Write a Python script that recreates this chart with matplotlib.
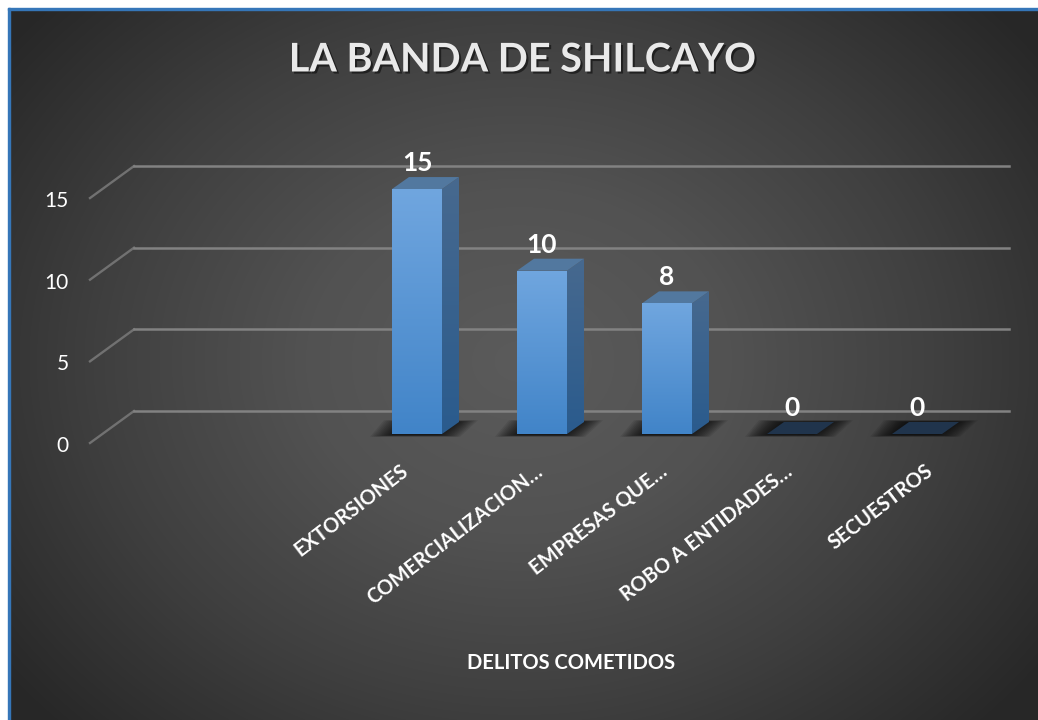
"""La Banda de Shilcayo: fake 3D column chart on a dark radial background."""
from __future__ import annotations

import matplotlib

matplotlib.use("Agg")

import matplotlib.patheffects as pe
import matplotlib.pyplot as plt
import numpy as np
from matplotlib.colors import LinearSegmentedColormap
from matplotlib.patches import Polygon, Rectangle

TITLE = "LA BANDA DE SHILCAYO"
AXIS_TITLE = "DELITOS COMETIDOS"
CATEGORIES = ["", "", "EXTORSIONES", "COMERCIALIZACION…", "EMPRESAS QUE…", "ROBO A ENTIDADES…", "SECUESTROS"]
VALUES = [None, None, 15, 10, 8, 0, 0]
Y_TICKS = [0, 5, 10, 15]

# screen scale of the chart: one category and one unit in pixels
CAT_PX = 125.0
UNIT_PX = 16.33
PX_X = 1 / CAT_PX
PX_Y = 1 / UNIT_PX

BAR_W = 50 * PX_X
DEPTH_X = 17 * PX_X
DEPTH_Y = 12 * PX_Y

# the rotated labels do not end at the same place under each column
LABEL_SHIFT_PX = [0, 0, -17, -8, -8, -8, 8]

FONT = "Lato"


def gradient_face(ax, points, top_color, bottom_color, zorder):
    poly = Polygon(points, closed=True, facecolor="none", edgecolor="none", zorder=zorder)
    ax.add_patch(poly)
    pts = np.array(points)
    cmap = LinearSegmentedColormap.from_list("face", [top_color, bottom_color])
    img = ax.imshow(
        np.linspace(0, 1, 256).reshape(-1, 1),
        cmap=cmap,
        aspect="auto",
        extent=(pts[:, 0].min(), pts[:, 0].max(), pts[:, 1].min(), pts[:, 1].max()),
        origin="upper",
        zorder=zorder,
    )
    img.set_clip_path(poly)


def floor_shadow(ax, x0, x1):
    # soft blur, built from stacked translucent parallelograms
    for grow in range(22, -1, -2):
        rise = grow * 0.2
        pts = [
            (x0 - grow * PX_X, (-1 - rise * 0.4) * PX_Y),
            (x1 + (grow - 4) * PX_X, (-1 - rise * 0.4) * PX_X / PX_X * PX_Y),
            (x1 + (grow + 14) * PX_X, (12 + rise * 0.4) * PX_Y),
            (x0 + (14 - grow) * PX_X, (12 + rise * 0.4) * PX_Y),
        ]
        ax.add_patch(Polygon(pts, closed=True, facecolor="black", edgecolor="none", alpha=0.085, zorder=2))


def draw_bar(ax, x, value):
    x0, x1 = x - BAR_W / 2, x + BAR_W / 2
    floor_shadow(ax, x0, x1)
    top = [(x0, value), (x1, value), (x1 + DEPTH_X, value + DEPTH_Y), (x0 + DEPTH_X, value + DEPTH_Y)]
    if value == 0:
        ax.add_patch(Polygon(top, closed=True, facecolor="#20344c", edgecolor="none", zorder=4))
        return
    gradient_face(ax, [(x0, 0), (x1, 0), (x1, value), (x0, value)], "#70a6df", "#4184c8", 4)
    gradient_face(
        ax, [(x1, 0), (x1 + DEPTH_X, DEPTH_Y), (x1 + DEPTH_X, value + DEPTH_Y), (x1, value)],
        "#47698f", "#2a5b8d", 3,
    )
    ax.add_patch(Polygon(top, closed=True, facecolor="#52789f", edgecolor="none", zorder=3))


def main() -> None:
    fig = plt.figure(figsize=(10.38, 7.2), dpi=100, facecolor="white")
    ax = fig.add_axes([0, 0, 1, 1])
    ax.axis("off")
    xlim = (2 - 417 * PX_X, 2 + (1038 - 417) * PX_X)
    ylim = (-(720 - 434) * PX_Y, 434 * PX_Y)

    # radial background, chart area starts just inside the white margin
    yy, xx = np.mgrid[0:711, 0:1029]
    dist = np.hypot((xx - 510) / 640, (yy - 352) / 520)
    bg = np.clip(dist, 0, 1)
    cmap = LinearSegmentedColormap.from_list("bg", ["#5b5b5b", "#525252", "#3f3f3f", "#282828"])
    ax.imshow(bg, cmap=cmap, vmin=0, vmax=1, aspect="auto", zorder=0,
              extent=(xlim[0] + 9 * PX_X, xlim[1], ylim[0], ylim[1] - 9 * PX_Y))
    fig.add_artist(Rectangle((8 / 1038, 0), 2 / 1038, 712 / 720, transform=fig.transFigure, color="#3576b8"))
    fig.add_artist(Rectangle((8 / 1038, 710 / 720), 1030 / 1038, 2 / 720, transform=fig.transFigure, color="#3576b8"))

    # walls: front edge of the floor is 9 px under the bars, back wall 23 px above
    left_front = 2 + (90 - 417) * PX_X
    left_back = 2 + (134 - 417) * PX_X
    right_back = 2 + (1009 - 417) * PX_X
    for tick in Y_TICKS:
        front_y = tick - 9 * PX_Y
        back_y = tick + 23 * PX_Y
        ax.plot([left_front, left_back], [front_y, back_y], color="#717171", lw=1.7, zorder=1)
        ax.plot([left_back, right_back], [back_y, back_y], color="#828282", lw=1.8, zorder=1)
        ax.text(left_front - 21 * PX_X, front_y - 3 * PX_Y, str(tick), color="white", fontsize=15, family=FONT,
                ha="right", va="center", zorder=6)

    for i, (name, value) in enumerate(zip(CATEGORIES, VALUES)):
        if value is None:
            continue
        draw_bar(ax, i, value)
        ax.text(i, value + 26 * PX_Y, str(value), color="white", fontsize=19, fontweight="bold", family=FONT,
                ha="center", va="center", zorder=7)
        ax.text(i + LABEL_SHIFT_PX[i] * PX_X, -27 * PX_Y, name, color="white", fontsize=14.5,
                fontweight="bold", family=FONT, rotation=37.5, rotation_mode="anchor", ha="right", va="top", zorder=6)

    ax.set_xlim(xlim)
    ax.set_ylim(ylim)

    fig.text(523 / 1038, 1 - 60 / 720, TITLE, color="#e9e9e9", fontsize=28.5, fontweight="bold", family=FONT,
             ha="center", va="center",
             path_effects=[pe.withSimplePatchShadow(offset=(1.5, -1.5), shadow_rgbFace="black", alpha=0.5)])
    fig.text(571 / 1038, 1 - 663 / 720, AXIS_TITLE, color="white", fontsize=14.5, fontweight="bold", family=FONT,
             ha="center", va="center")

    fig.savefig("out.png", dpi=100, facecolor="white")
    plt.close(fig)


if __name__ == "__main__":
    main()
